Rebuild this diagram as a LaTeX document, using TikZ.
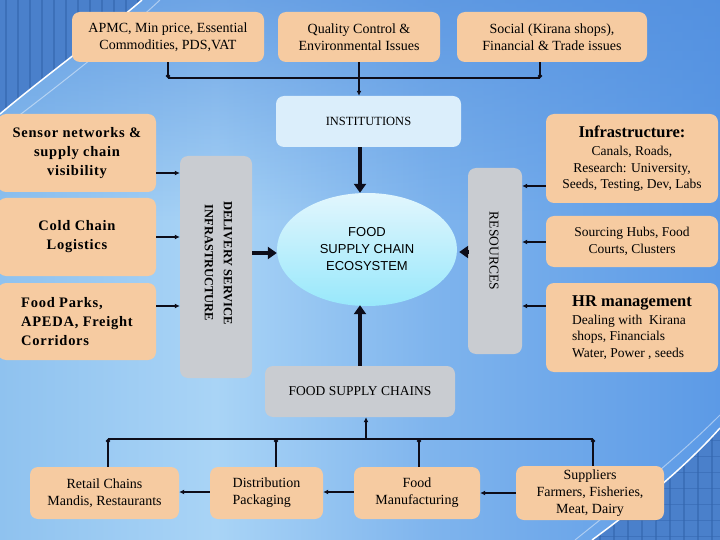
\documentclass[tikz,border=0pt]{standalone}
\usepackage{fontspec}
\setmainfont{Liberation Serif}
\newfontfamily\arialf{Liberation Sans}
\newfontfamily\spaced[LetterSpace=5]{Liberation Serif}
\usetikzlibrary{arrows.meta,shapes.geometric,fadings,calc}

\definecolor{peach}{HTML}{F6CBA1}
\definecolor{grayb}{HTML}{C9CCD1}
\definecolor{instc}{HTML}{DBEEFB}
\definecolor{ink}{HTML}{0D0D1A}
\definecolor{bgL}{HTML}{8FC2EF}
\definecolor{bgM}{HTML}{A9D4F6}
\definecolor{bgR}{HTML}{5C9AE6}
\definecolor{bgT}{HTML}{4F8CDD}
\definecolor{bld}{HTML}{4A80CB}
\definecolor{bldline}{HTML}{3466AE}
\definecolor{ecoT}{HTML}{E2F6FD}
\definecolor{ecoB}{HTML}{98E8FB}

\pgfdeclarehorizontalshading{bgshade}{100bp}{color(0bp)=(bgL); color(25bp)=(bgL); color(40bp)=(bgM); color(55bp)=(bgM!45!bgR); color(75bp)=(bgR); color(100bp)=(bgR)}
\tikzfading[name=topfade, top color=transparent!35, bottom color=transparent!100]

\tikzset{
  pbox/.style={fill=peach, rounded corners=8pt, inner sep=0pt, align=center,
    font=\fontsize{14}{17}\selectfont},
  gbox/.style={fill=grayb, rounded corners=8pt, inner sep=0pt},
  arr/.style={draw=ink, line width=1.6pt, -{Latex[length=5pt,width=5pt]}},
  thinl/.style={draw=ink, line width=1.2pt},
  dotend/.style={draw=ink, line width=1.8pt, -{Circle[length=4pt]}},
  dotstart/.style={draw=ink, line width=1.8pt, {Circle[length=4pt]}-},
  bigarr/.style={draw=ink, line width=3.5pt, -{Triangle[length=9pt,width=12pt]}},
  vtext/.style={rotate=-90, align=center, inner sep=0pt},
  lbox/.style={pbox, minimum width=158pt, font=\spaced\bfseries\fontsize{14.5}{19}\selectfont}
}

\begin{document}
\begin{tikzpicture}[x=1pt,y=-1pt]
\useasboundingbox (0,0) rectangle (720,540);
% background
\shade[shading=bgshade] (0,0) rectangle (720,540);
\fill[bgT, path fading=topfade] (0,0) rectangle (720,220);
% decoration top-left
\begin{scope}
  \clip (0,0) -- (142,0) .. controls (100,36) and (40,80) .. (0,114) -- cycle;
  \fill[bld] (0,0) rectangle (150,120);
  \foreach \xx in {6,18,...,140} {\draw[bldline, line width=2pt, opacity=0.6] (\xx,0) -- (\xx,120);}
\end{scope}
\draw[white, line width=1.5pt] (142,0) .. controls (100,36) and (40,80) .. (0,114);
\draw[white, opacity=0.45, line width=1pt] (160,0) .. controls (115,42) and (50,92) .. (0,130);
% decoration bottom-right
\begin{scope}
  \clip (720,540) -- (592,540) .. controls (640,505) and (690,462) .. (720,428) -- cycle;
  \fill[bld] (580,420) rectangle (720,540);
  \foreach \xx in {600,614,...,720} {\draw[bldline, line width=1.5pt, opacity=0.6] (\xx,420) -- (\xx,540);}
  \foreach \yy in {440,456,...,540} {\draw[bldline, line width=1pt, opacity=0.5] (580,\yy) -- (720,\yy);}
\end{scope}
\draw[white, line width=1.5pt] (592,540) .. controls (640,505) and (690,462) .. (720,428);
\draw[white, opacity=0.45, line width=1pt] (575,540) .. controls (625,500) and (680,455) .. (720,415);

% top boxes
\node[pbox, minimum width=192pt, minimum height=50pt] (apmc) at (168,37) {APMC, Min price, Essential\\Commodities, PDS,VAT};
\node[pbox, minimum width=162pt, minimum height=50pt] (quality) at (359,37) {Quality Control \&\\Environmental Issues};
\node[pbox, minimum width=190pt, minimum height=50pt] (social) at (552,37) {Social (Kirana shops),\\Financial \& Trade issues};

\node[fill=instc, rounded corners=8pt, inner sep=0pt, minimum width=185pt, minimum height=51pt,
  font=\fontsize{12.5}{15}\selectfont] (inst) at (368.5,121.5) {INSTITUTIONS};

% ecosystem
\node[ellipse, minimum width=180pt, minimum height=113pt, top color=ecoT, bottom color=ecoB,
  inner sep=0pt, align=center, font=\arialf\fontsize{13}{17}\selectfont] (eco) at (367,249.5) {FOOD\\SUPPLY CHAIN\\ECOSYSTEM};

% delivery service infrastructure
\node[gbox, minimum width=72pt, minimum height=222pt] (dsi) at (216,267) {};
\node[vtext, font=\bfseries\fontsize{12.5}{19}\selectfont] (dsitext) at (218.5,263) {DELIVERY SERVICE\\INFRASTRUCTURE};

% resources
\node[gbox, minimum width=54pt, minimum height=186pt] (res) at (495,261) {};
\node[vtext, font=\fontsize{13.5}{16}\selectfont] (restext) at (494,251) {RESOURCES};

% left boxes
\node[lbox, minimum height=78pt] (sensor) at (77,153) {Sensor networks \&\\supply chain\\visibility};
\node[lbox, minimum height=78pt] (cold) at (77,237) {Cold Chain\\Logistics};
\node[lbox, minimum height=77pt, align=left] (parks) at (77,321.5) {Food Parks,\\APEDA, Freight\\Corridors};

% right boxes
\node[pbox, minimum width=172pt, minimum height=89pt, font=\fontsize{13.5}{16.5}\selectfont] (infra) at (632,158.5)
  {{\bfseries\fontsize{16.5}{19}\selectfont Infrastructure:}\\[2pt]Canals, Roads,\\Research: University,\\Seeds, Testing, Dev, Labs};
\node[pbox, minimum width=172pt, minimum height=51pt, font=\fontsize{13.5}{16.5}\selectfont] (sourcing) at (632,241.5) {Sourcing Hubs, Food\\Courts, Clusters};
\node[pbox, minimum width=172pt, minimum height=89pt, align=left, font=\fontsize{13.5}{16.5}\selectfont] (hr) at (632,327.5)
  {{\bfseries\fontsize{16.5}{19}\selectfont HR management}\\[1pt]Dealing with~ Kirana\\shops, Financials\\Water, Power , seeds};

% food supply chains
\node[gbox, minimum width=190pt, minimum height=51pt, font=\fontsize{13.5}{16}\selectfont] (fsc) at (360,391.5) {FOOD SUPPLY CHAINS};

% bottom boxes
\node[pbox, minimum width=149pt, minimum height=52pt] (retail) at (104.5,493) {Retail Chains\\Mandis, Restaurants};
\node[pbox, minimum width=113pt, minimum height=52pt, align=left] (dist) at (266.5,493) {Distribution\\Packaging};
\node[pbox, minimum width=126pt, minimum height=52pt] (manuf) at (417,493) {Food\\Manufacturing};
\node[pbox, minimum width=148pt, minimum height=54pt] (supp) at (590,493) {Suppliers\\Farmers, Fisheries,\\Meat, Dairy};

% top connectors
\coordinate (ja) at (168,78);
\coordinate (js) at (540,78);
\draw[dotend] (apmc.south) -- (ja);
\draw[dotend] (social.south -| js) -- (js);
\draw[thinl] (ja) -- (js);
\draw[arr] (quality.south) -- (inst.north -| quality.south);

% thick arrows to ecosystem
\draw[bigarr] (inst.south -| fsc.north) -- (eco.north -| fsc.north);
\draw[bigarr] (fsc.north) -- ($(eco.south -| fsc.north)+(0,-1)$);
\draw[bigarr] (dsi.east |- 0,253) -- (eco.west |- 0,253);
\draw[bigarr] (res.west |- 0,252) -- ($(eco.east |- 0,252)+(2,0)$);

% left arrows
\draw[arr] (sensor.east |- 0,173) -- (dsi.west |- 0,173);
\draw[arr] (cold.east |- 0,237) -- (dsi.west |- 0,237);
\draw[arr] (parks.east |- 0,306) -- (dsi.west |- 0,306);

% right arrows
\draw[arr] (infra.west |- 0,186) -- (res.east |- 0,186);
\draw[arr] (sourcing.west |- 0,242) -- (res.east |- 0,242);
\draw[arr] (hr.west |- 0,306) -- (res.east |- 0,306);

% bottom tree
\coordinate (jf) at (366,439);
\coordinate (jr) at (108,439);
\coordinate (jd) at (276,439);
\coordinate (jm) at (419,439);
\coordinate (jsu) at (593,439);
\draw[arr] (jf) -- (fsc.south -| jf);
\draw[thinl] (jr) -- (jsu);
\draw[dotstart] (jr) -- (retail.north -| jr);
\draw[dotstart] (jd) -- (dist.north -| jd);
\draw[dotstart] (jm) -- (manuf.north -| jm);
\draw[dotstart] (jsu) -- (supp.north -| jsu);

% bottom arrows
\draw[arr] (supp.west |- 0,493) -- (manuf.east |- 0,493);
\draw[arr] (manuf.west |- 0,492) -- (dist.east |- 0,492);
\draw[arr] (dist.west |- 0,492) -- (retail.east |- 0,492);
\end{tikzpicture}
\end{document}
